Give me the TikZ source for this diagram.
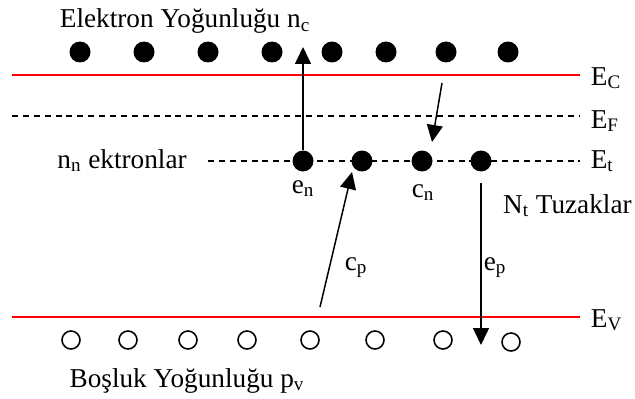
\documentclass[tikz,border=0pt]{standalone}
\usepackage{fontspec}
\setmainfont{Liberation Serif}
\usepackage{tikz}
\usetikzlibrary{arrows.meta}

\begin{document}
\begin{tikzpicture}[
  lbl/.style={inner sep=0pt, text=black, font=\fontsize{15.5}{18}\selectfont},
  full/.style={circle, fill=black, inner sep=0pt, minimum size=0.42cm},
  hole/.style={circle, draw, line width=0.9pt, inner sep=0pt, minimum size=0.36cm},
  band/.style={red, line width=1.1pt},
  level/.style={dash pattern=on 3.4pt off 2.8pt, line width=0.85pt},
  arrow/.style={-{Triangle[length=0.34cm, width=0.32cm]}, line width=0.85pt}
]
\useasboundingbox (0,0) rectangle (12.7,7.96);
% energy levels
\draw[band] (0.24,6.46) -- (11.6,6.46) node[lbl, anchor=base west, xshift=0.2cm, yshift=-0.2cm] (ec) {E\textsubscript{C}};
\draw[level] (0.24,5.64) -- (11.6,5.64) node[lbl, anchor=base west, xshift=0.2cm, yshift=-0.24cm] (ef) {E\textsubscript{F}};
\draw[level] (4.16,4.74) -- (11.6,4.74) node[lbl, anchor=base west, xshift=0.2cm, yshift=-0.14cm] (et) {E\textsubscript{t}};
\draw[band] (0.24,1.62) -- (11.6,1.62) node[lbl, anchor=base west, xshift=0.2cm, yshift=-0.2cm] (ev) {E\textsubscript{V}};
% electrons in the conduction band
\node[full] (c1) at (1.6,6.92) {};
\node[full] (c2) at (2.88,6.92) {};
\node[full] (c3) at (4.16,6.92) {};
\node[full] (c4) at (5.44,6.92) {};
\node[full] (c5) at (6.64,6.92) {};
\node[full] (c6) at (7.72,6.92) {};
\node[full] (c7) at (8.92,6.92) {};
\node[full] (c8) at (10.16,6.92) {};
% traps
\node[full] (t1) at (6.06,4.74) {};
\node[full] (t2) at (7.24,4.74) {};
\node[full] (t3) at (8.44,4.74) {};
\node[full] (t4) at (9.62,4.74) {};
% holes in the valence band
\node[hole] (v1) at (1.42,1.16) {};
\node[hole] (v2) at (2.56,1.16) {};
\node[hole] (v3) at (3.76,1.16) {};
\node[hole] (v4) at (4.94,1.16) {};
\node[hole] (v5) at (6.2,1.16) {};
\node[hole] (v6) at (7.5,1.16) {};
\node[hole] (v7) at (8.86,1.16) {};
\node[hole] (v8) at (10.22,1.12) {};
% labels
\node[lbl, anchor=base] (nc) at (3.7,7.40) {Elektron Yoğunluğu n\textsubscript{c}};
\node[lbl, anchor=base east] (nn) at (3.74,4.60) {n\textsubscript{n} ektronlar};
\node[lbl, anchor=base] (en) at (6.06,4.10) {e\textsubscript{n}};
\node[lbl, anchor=base] (cn) at (8.46,4.02) {c\textsubscript{n}};
\node[lbl, anchor=base] (cp) at (7.12,2.56) {c\textsubscript{p}};
\node[lbl, anchor=base] (ep) at (9.9,2.56) {e\textsubscript{p}};
\node[lbl, anchor=base east] (nt) at (12.64,3.70) {N\textsubscript{t} Tuzaklar};
\node[lbl, anchor=base] (pv) at (3.74,0.22) {Boşluk Yoğunluğu p\textsubscript{v}};
% transitions
\coordinate (entop) at (6.06,7.02);
\coordinate (cnstart) at (8.84,6.30);
\coordinate (cnend) at (8.64,5.12);
\coordinate (cpstart) at (6.4,1.82);
\coordinate (cpend) at (7.04,4.52);
\coordinate (epend) at (9.62,1.06);
\draw[arrow] (t1) -- (entop);
\draw[arrow] (cnstart) -- (cnend);
\draw[arrow] (cpstart) -- (cpend);
\draw[arrow, shorten <=0.22cm] (t4) -- (epend);
\end{tikzpicture}
\end{document}
